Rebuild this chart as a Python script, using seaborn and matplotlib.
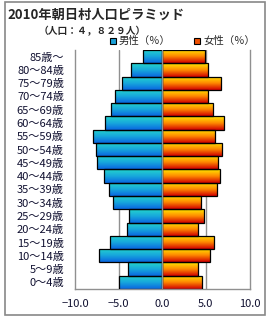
import numpy as np
import pandas as pd
import matplotlib
matplotlib.use("Agg")
import matplotlib.pyplot as plt
import seaborn as sns
from matplotlib.patches import Rectangle

# ---- data ----
age_groups = ["85歳〜", "80〜84歳", "75〜79歳", "70〜74歳", "65〜69歳", "60〜64歳",
              "55〜59歳", "50〜54歳", "45〜49歳", "40〜44歳", "35〜39歳", "30〜34歳",
              "25〜29歳", "20〜24歳", "15〜19歳", "10〜14歳", "5〜9歳", "0〜4歳"]
male_pct = [2.2, 3.6, 4.6, 5.4, 5.9, 6.6, 7.9, 7.6, 7.5, 6.7, 6.1, 5.6, 3.8, 4.0, 6.0, 7.3, 3.9, 4.9]
female_pct = [4.9, 5.3, 6.7, 5.2, 5.8, 7.1, 6.1, 6.8, 6.4, 6.6, 6.3, 4.4, 4.8, 4.1, 5.9, 5.5, 4.1, 4.5]
xticks = [-10, -5, 0, 5, 10]
xtick_labels = ["\u221210.0", "\u22125.0", "0.0", "5.0", "10.0"]
title = "2010年朝日村人口ピラミッド"
subtitle = "（人口：４，８２９人）"
legend_labels = ["男性（％）", "女性（％）"]

sns.set_theme(style="white")
plt.rcParams['font.family'] = ['Noto Sans CJK JP', 'DejaVu Sans']

df = pd.DataFrame({"age": age_groups,
                   "male": [-v for v in male_pct],
                   "female": female_pct})

W, H = 270, 320
fig = plt.figure(figsize=(W / 100, H / 100), dpi=100)
ax = fig.add_axes([75 / W, 1 - 289 / H, 174.5 / W, 239 / H])

sns.barplot(data=df, y="age", x="male", order=age_groups, orient="h", width=1.0,
            color="#1890e0", edgecolor="black", linewidth=0.9, ax=ax)
sns.barplot(data=df, y="age", x="female", order=age_groups, orient="h", width=1.0,
            color="#f05000", edgecolor="black", linewidth=0.9, ax=ax)

def grad(top, mid, bot, n=64):
    top, mid, bot = [np.array(matplotlib.colors.to_rgb(c)) for c in (top, mid, bot)]
    t = np.linspace(0, 1, n)[:, None]
    first = top + (mid - top) * np.clip(t * 2, 0, 1)
    second = mid + (bot - mid) * np.clip(t * 2 - 1, 0, 1)
    arr = np.where(t < 0.5, first, second)
    return arr[:, None, :]

g_male = grad("#24d6cc", "#18a8dc", "#0a66e0")
g_female = grad("#ffea00", "#ff8a00", "#d00000")

for p in list(ax.patches):
    bb = p.get_bbox()
    x0, x1 = sorted([bb.x0, bb.x1])
    y0, y1 = sorted([bb.y0, bb.y1])
    g = g_male if x0 < 0 else g_female
    im = ax.imshow(g, extent=(x0, x1, y1, y0), origin="upper", aspect="auto",
                   interpolation="bilinear", zorder=2)
    im.set_clip_path(p)
    p.set_facecolor("none")
    p.set_zorder(3)

ax.set_xlim(-10, 10)
ax.set_ylim(len(age_groups) - 0.5, -0.5)
ax.set_xticks(xticks)
ax.set_xticklabels(xtick_labels)
ax.set_xlabel("")
ax.set_ylabel("")
for v in [-5, 5]:
    ax.axvline(v, color="#909090", lw=1.0, zorder=1)
ax.axvline(0, color="#909090", lw=1.0, zorder=4)

for s in ["left", "bottom", "right"]:
    ax.spines[s].set_color("#909090")
    ax.spines[s].set_linewidth(1.0)
ax.spines["top"].set_visible(False)
ax.tick_params(axis="both", length=0)
ax.tick_params(axis="x", pad=7, labelsize=8, labelcolor="#101030")
ax.tick_params(axis="y", pad=8, labelsize=8, labelcolor="#101030")

# outer frame
fig.patches.append(Rectangle((5 / W, 5 / H), 260 / W, 313 / H, transform=fig.transFigure,
                             fill=False, edgecolor="#888888", lw=1.2))

fig.text(7 / W, 1 - 15 / H, title, fontsize=9.5, fontweight="bold", va="center", ha="left")
fig.text(92 / W, 1 - 31 / H, subtitle, fontsize=7, fontweight="bold", va="center", ha="center")

# legend
for xs, col, lab in [(110, "#1aa0d8", legend_labels[0]), (194, "#f05000", legend_labels[1])]:
    fig.patches.append(Rectangle((xs / W, 1 - 44 / H), 6 / W, 6 / H, transform=fig.transFigure,
                                 facecolor=col, edgecolor="black", lw=0.8))
    fig.text((xs + 9) / W, 1 - 41 / H, lab, fontsize=7.5, va="center", ha="left")

fig.savefig("out.png", dpi=100)
